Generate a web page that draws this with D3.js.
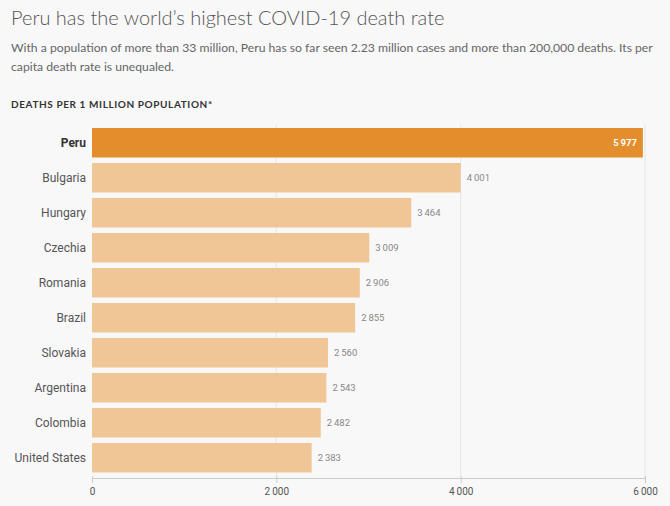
<!DOCTYPE html>
<html><head><meta charset="utf-8">
<script src="https://cdn.jsdelivr.net/npm/d3@7"></script>
<style>
html,body{margin:0;padding:0;background:#f8f8f8;}
svg{display:block;font-family:Lato,"Open Sans",sans-serif;}
</style></head>
<body>
<svg id="chart" width="670" height="506"></svg>
<script>
const countries = ["Peru","Bulgaria","Hungary","Czechia","Romania","Brazil","Slovakia","Argentina","Colombia","United States"];
const deaths = [5977,4001,3464,3009,2906,2855,2560,2543,2482,2383];
const xTicks = [0,2000,4000,6000];
const title = "Peru has the world\u2019s highest COVID-19 death rate";
const subtitleLines = ["With a population of more than 33 million, Peru has so far seen 2.23 million cases and more than 200,000 deaths. Its per","capita death rate is unequaled."];
const axisTitle = "DEATHS PER 1 MILLION POPULATION*";

const data = countries.map((c,i)=>({country:c, value:deaths[i]}));
const svg = d3.select("#chart");
svg.append("rect").attr("width",670).attr("height",506).attr("fill","#f8f8f8");

const fmt = v => d3.format(",")(v).replace(/,/g,"\u2009");
const labelFont = "Roboto,Arial,sans-serif";

svg.append("text").attr("x",11).attr("y",25).attr("font-size",20).attr("font-weight",300)
  .attr("fill","#555").text(title);
subtitleLines.forEach((l,i)=>{
  svg.append("text").attr("x",11).attr("y",52+i*19).attr("font-size",12.2).attr("fill","#666").text(l);
});
svg.append("text").attr("x",11).attr("y",108).attr("font-size",10).attr("font-weight",700)
  .attr("letter-spacing",0.6).attr("fill","#333").text(axisTitle);

const x = d3.scaleLinear().domain([0,6000]).range([92,645]);
const y = d3.scaleBand().domain(countries).range([128,472.5]).paddingInner(0.157).paddingOuter(0);

// gridlines
svg.append("g").selectAll("line").data(xTicks.slice(1)).join("line")
  .attr("x1",d=>x(d)).attr("x2",d=>x(d)).attr("y1",124).attr("y2",478)
  .attr("stroke","#e6e6e6").attr("stroke-width",1);

svg.append("g").selectAll("rect").data(data).join("rect")
  .attr("x",x(0)).attr("y",d=>y(d.country)).attr("width",d=>x(d.value)-x(0)).attr("height",y.bandwidth())
  .attr("fill",(d,i)=>i===0?"#e38d2c":"#f0c696");

svg.append("g").selectAll("text").data(data).join("text")
  .attr("x",86).attr("y",d=>y(d.country)+y.bandwidth()/2).attr("dy","0.35em")
  .attr("text-anchor","end").attr("font-size",12).attr("font-family",labelFont)
  .attr("font-weight",(d,i)=>i===0?700:400)
  .attr("fill",(d,i)=>i===0?"#333":"#555").text(d=>d.country);

svg.append("g").selectAll("text").data(data).join("text")
  .attr("x",(d,i)=>i===0?x(d.value)-6:x(d.value)+6)
  .attr("y",d=>y(d.country)+y.bandwidth()/2).attr("dy","0.35em")
  .attr("text-anchor",(d,i)=>i===0?"end":"start").attr("font-size",9.5).attr("font-family",labelFont)
  .attr("font-weight",(d,i)=>i===0?700:400)
  .attr("fill",(d,i)=>i===0?"#fff":"#888").text(d=>fmt(d.value));

const axis = d3.axisBottom(x).tickValues(xTicks).tickFormat(fmt).tickSize(5).tickSizeOuter(0);
const gx = svg.append("g").attr("transform","translate(0,478)").call(axis);
gx.select(".domain").attr("stroke","#ccc");
gx.selectAll(".tick line").attr("stroke","#ccc").attr("y1",-2);
gx.selectAll(".tick text").attr("fill","#555").attr("font-size",10).attr("font-family",labelFont).attr("dy","0.9em");
</script>
</body></html>
